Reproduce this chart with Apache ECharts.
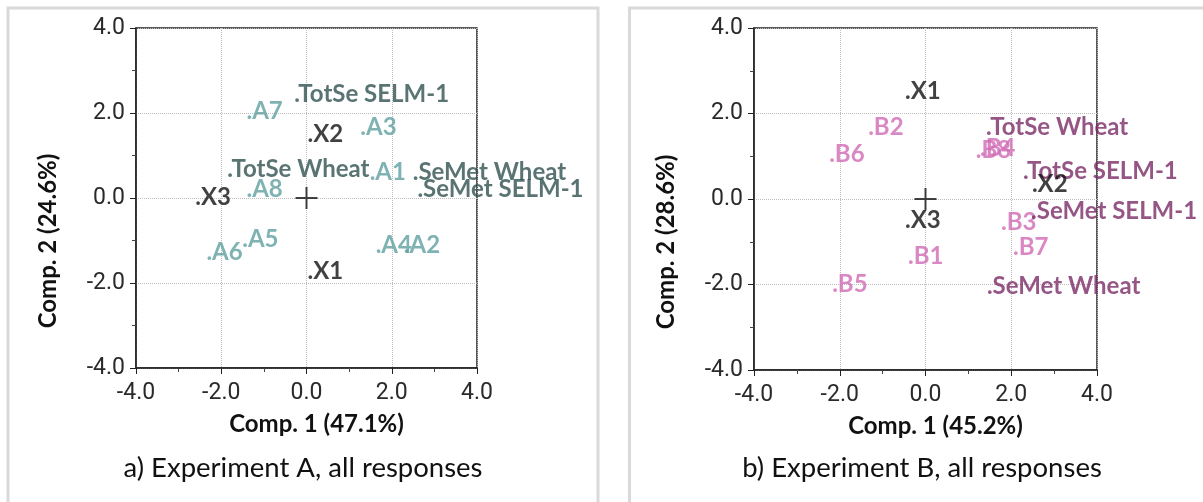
<!DOCTYPE html>
<html><head><meta charset="utf-8">
<script src="https://cdn.jsdelivr.net/npm/echarts@6/dist/echarts.min.js"></script>
<style>html,body{margin:0;padding:0;background:#fff}#c{width:1203px;height:502px}</style>
</head><body><div id="c"></div>
<script>
// ---- tick values / labels ----
const tickValues = [-4, -2, 0, 2, 4];
const tickLabels = ['-4.0', '-2.0', '0.0', '2.0', '4.0'];

// ---- Experiment A ----
const samplesA = ['A1', 'A2', 'A3', 'A4', 'A5', 'A6', 'A7', 'A8'];
const samplesAx = [1.53, 2.33, 1.31, 1.67, -1.46, -2.30, -1.36, -1.36];
const samplesAy = [0.47, -1.25, 1.53, -1.25, -1.11, -1.41, 1.90, 0.07];
const respA = ['TotSe SELM-1', 'TotSe Wheat', 'SeMet Wheat', 'SeMet SELM-1'];
const respAx = [-0.24, -1.81, 2.54, 2.65];
const respAy = [2.31, 0.54, 0.46, 0.07];
const factA = ['X1', 'X2', 'X3'];
const factAx = [0.07, 0.07, -2.56];
const factAy = [-1.86, 1.35, -0.12];

// ---- Experiment B ----
const samplesB = ['B1', 'B2', 'B3', 'B4', 'B5', 'B6', 'B7', 'B8'];
const samplesBx = [-0.36, -1.29, 1.81, 1.32, -2.13, -2.20, 2.09, 1.22];
const samplesBy = [-1.47, 1.54, -0.68, 1.04, -2.13, 0.91, -1.26, 0.99];
const respB = ['TotSe Wheat', 'TotSe SELM-1', 'SeMet SELM-1', 'SeMet Wheat'];
const respBx = [1.46, 2.32, 2.51, 1.48];
const respBy = [1.54, 0.51, -0.42, -2.18];
const factB = ['X1', 'X2', 'X3'];
const factBx = [-0.43, 2.53, -0.43];
const factBy = [2.39, 0.21, -0.63];

const axisTitlesX = ['Comp. 1 (47.1%)', 'Comp. 1 (45.2%)'];
const axisTitlesY = ['Comp. 2 (24.6%)', 'Comp. 2 (28.6%)'];
const captions = ['a) Experiment A, all responses', 'b) Experiment B, all responses'];

const toData = (names, xs, ys) => names.map((n, i) => ({ name: n, value: [xs[i], ys[i]] }));

const LABEL_FONT = 'Lato';
const TICK_FONT = 'Roboto';

function labelSeries(idx, data, color) {
  return {
    type: 'scatter', xAxisIndex: idx, yAxisIndex: idx,
    data: data, symbol: 'circle', symbolSize: 0.1,
    itemStyle: { color: 'rgba(0,0,0,0)' },
    label: {
      show: true, position: [0, 0], align: 'left', verticalAlign: 'bottom',
      offset: [-2, 6],
      formatter: p => '.' + p.name,
      color: color, fontFamily: LABEL_FONT, fontWeight: 'bold', fontSize: 24
    },
    emphasis: { disabled: true }, silent: true, z: 3
  };
}

function crossSeries(idx) {
  return {
    type: 'scatter', xAxisIndex: idx, yAxisIndex: idx,
    data: [[0, 0]], symbol: 'path://M0,-10 L0,10 M-10,0 L10,0', symbolSize: 22,
    itemStyle: { color: 'none', borderColor: '#111', borderWidth: 2 },
    silent: true, z: 4
  };
}

function xAxis(idx) {
  return {
    gridIndex: idx, type: 'value', min: -4, max: 4, interval: 2,
    axisLine: { show: true, onZero: false, lineStyle: { color: '#222', width: 1.5 } },
    axisTick: { show: true, inside: false, length: 6, lineStyle: { color: '#222' } },
    minorTick: { show: true, splitNumber: 2, length: 4, lineStyle: { color: '#444' } },
    splitLine: { show: true, lineStyle: { type: 'dotted', color: '#bdbdbd', width: 1 } },
    axisLabel: {
      margin: 14, fontSize: 23, fontWeight: 'normal', fontFamily: TICK_FONT, color: '#2a2a2a',
      formatter: v => tickLabels[tickValues.indexOf(v)]
    },
    name: axisTitlesX[idx], nameLocation: 'middle', nameGap: 44,
    nameTextStyle: { fontFamily: LABEL_FONT, fontWeight: 'bold', fontSize: 24, color: '#111', padding: [0, 0, 0, 20] }
  };
}

function yAxis(idx) {
  return {
    gridIndex: idx, type: 'value', min: -4, max: 4, interval: 2,
    axisLine: { show: true, onZero: false, lineStyle: { color: '#222', width: 1.5 } },
    axisTick: { show: true, inside: false, length: 6, lineStyle: { color: '#222' } },
    minorTick: { show: true, splitNumber: 2, length: 4, lineStyle: { color: '#444' } },
    splitLine: { show: true, lineStyle: { type: 'dotted', color: '#bdbdbd', width: 1 } },
    axisLabel: {
      margin: 11, fontSize: 23, fontWeight: 'normal', fontFamily: TICK_FONT, color: '#2a2a2a', padding: [18, 0, 0, 0],
      formatter: v => tickLabels[tickValues.indexOf(v)]
    },
    name: axisTitlesY[idx], nameLocation: 'middle', nameGap: 76, nameRotate: 90,
    nameTextStyle: { fontFamily: LABEL_FONT, fontWeight: 'bold', fontSize: 24, color: '#111', padding: [0, 86, 0, 0] }
  };
}

const chart = echarts.init(document.getElementById('c'), null, { renderer: 'canvas' });
chart.setOption({
  backgroundColor: '#fff',
  animation: false,
  title: [
    { text: captions[0], left: 298, top: 449, textAlign: 'center',
      textStyle: { fontFamily: LABEL_FONT, fontWeight: 'normal', fontSize: 27.5, color: '#111' } },
    { text: captions[1], left: 917, top: 449, textAlign: 'center',
      textStyle: { fontFamily: LABEL_FONT, fontWeight: 'normal', fontSize: 27.5, color: '#111' } }
  ],
  graphic: [
    { type: 'rect', shape: { x: 8, y: 8, width: 590, height: 530 }, style: { fill: 'none', stroke: '#d9d9d9', lineWidth: 3 }, z: -10 },
    { type: 'rect', shape: { x: 629.5, y: 8, width: 620, height: 530 }, style: { fill: 'none', stroke: '#d9d9d9', lineWidth: 3 }, z: -10 }
  ],
  grid: [
    { left: 136, top: 28, width: 341, height: 340, show: true, borderColor: '#222', borderWidth: 1.5, backgroundColor: 'transparent' },
    { left: 754, top: 28, width: 343, height: 342, show: true, borderColor: '#222', borderWidth: 1.5, backgroundColor: 'transparent' }
  ],
  xAxis: [xAxis(0), xAxis(1)],
  yAxis: [yAxis(0), yAxis(1)],
  series: [
    crossSeries(0),
    labelSeries(0, toData(samplesA, samplesAx, samplesAy), '#5f9f9f'),
    labelSeries(0, toData(respA, respAx, respAy), '#30514f'),
    labelSeries(0, toData(factA, factAx, factAy), '#111111'),
    crossSeries(1),
    labelSeries(1, toData(samplesB, samplesBx, samplesBy), '#d06ab4'),
    labelSeries(1, toData(respB, respBx, respBy), '#7b2c66'),
    labelSeries(1, toData(factB, factBx, factBy), '#111111')
  ]
});
</script>
</body></html>
